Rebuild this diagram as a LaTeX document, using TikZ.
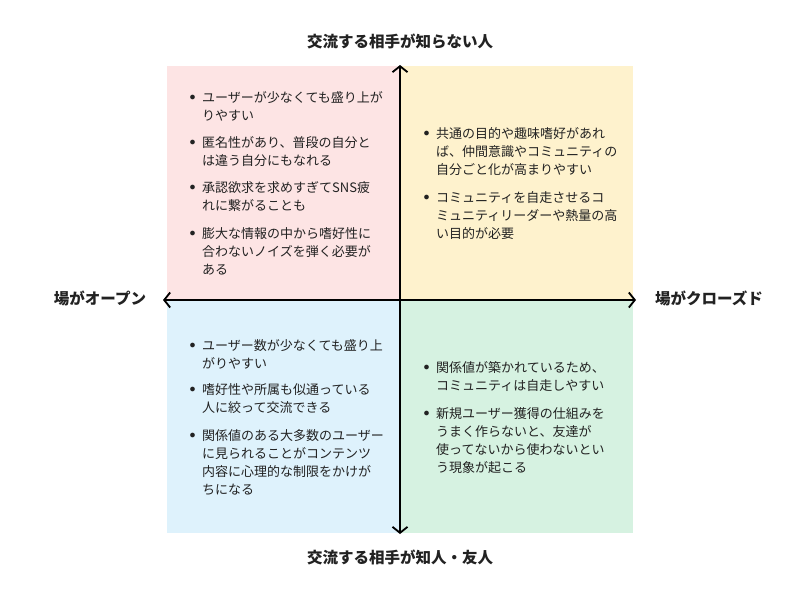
\documentclass[tikz,border=0pt]{standalone}
\usepackage{fontspec}
\usetikzlibrary{arrows.meta}
\setmainfont{Noto Sans CJK JP}
\definecolor{qpink}{HTML}{FDE4E4}
\definecolor{qyellow}{HTML}{FEF2CD}
\definecolor{qblue}{HTML}{DEF2FC}
\definecolor{qgreen}{HTML}{D6F2E1}
\definecolor{txt}{HTML}{222222}
\newcommand{\bul}{\llap{\raisebox{1.2pt}{$\bullet$}\hspace{6.5pt}}}
\newcommand{\lines}[1]{\begin{tabular}[t]{@{}l@{}}#1\end{tabular}}
\begin{document}
\begin{tikzpicture}[x=1pt,y=-1pt,
  quad/.style={draw=none},
  item/.style={anchor=base west,inner sep=0pt,text=txt,font=\fontsize{13}{18}\selectfont},
  title/.style={inner sep=0pt,text=txt,font=\fontsize{15.5}{18}\selectfont\bfseries},
  axis/.style={line width=1.8pt,{Straight Barb[length=6pt,width=15pt,line width=1.8pt]}-{Straight Barb[length=6pt,width=15pt,line width=1.8pt]}}
]
\useasboundingbox (0,0) rectangle (800,600);
\fill[white] (0,0) rectangle (800,600);
\fill[qpink] (167,66) rectangle (400,300);
\fill[qyellow] (400,66) rectangle (633,300);
\fill[qblue] (167,300) rectangle (400,533);
\fill[qgreen] (400,300) rectangle (633,533);

\coordinate (top) at (400,65);
\coordinate (bot) at (400,534);
\coordinate (lft) at (163,300);
\coordinate (rgt) at (636,300);
\draw[axis] (top) -- (bot);
\draw[axis] (lft) -- (rgt);

\node[title] (tt) at (400,41) {交流する相手が知らない人};
\node[title] (tb) at (400,557) {交流する相手が知人・友人};
\node[title] (tl) at (100,298) {場がオープン};
\node[title] (tr) at (709,298) {場がクローズド};

\node[item] (p1) at (202,102) {\lines{\bul ユーザーが少なくても盛り上が\\りやすい}};
\node[item] (p2) at (202,147) {\lines{\bul 匿名性があり、普段の自分と\\は違う自分にもなれる}};
\node[item] (p3) at (202,192) {\lines{\bul 承認欲求を求めすぎてSNS疲\\れに繋がることも}};
\node[item] (p4) at (202,238) {\lines{\bul 膨大な情報の中から嗜好性に\\合わないノイズを弾く必要が\\ある}};

\node[item] (y1) at (436,138) {\lines{\bul 共通の目的や趣味嗜好があれ\\ば、仲間意識やコミュニティの\\自分ごと化が高まりやすい}};
\node[item] (y2) at (436,202) {\lines{\bul コミュニティを自走させるコ\\ミュニティリーダーや熱量の高\\い目的が必要}};

\node[item] (b1) at (202,350) {\lines{\bul ユーザー数が少なくても盛り上\\がりやすい}};
\node[item] (b2) at (202,394) {\lines{\bul 嗜好性や所属も似通っている\\人に絞って交流できる}};
\node[item] (b3) at (202,440) {\lines{\bul 関係値のある大多数のユーザー\\に見られることがコンテンツ\\内容に心理的な制限をかけが\\ちになる}};

\node[item] (g1) at (436,372) {\lines{\bul 関係値が築かれているため、\\コミュニティは自走しやすい}};
\node[item] (g2) at (436,418) {\lines{\bul 新規ユーザー獲得の仕組みを\\うまく作らないと、友達が\\使ってないから使わないとい\\う現象が起こる}};
\end{tikzpicture}
\end{document}
